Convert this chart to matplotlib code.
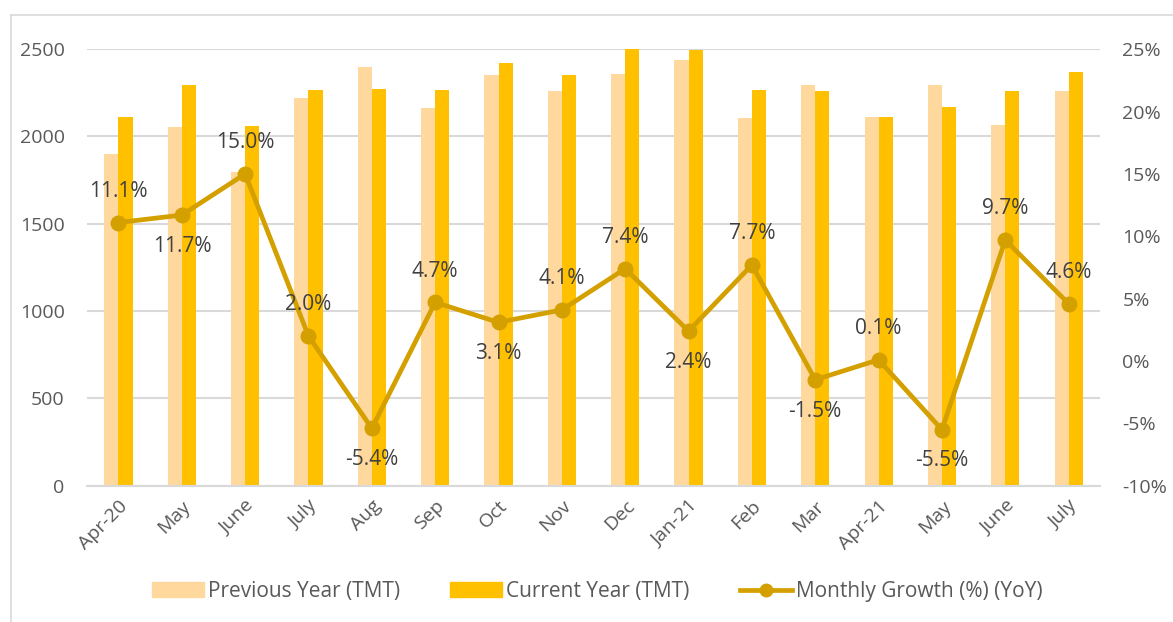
import matplotlib.pyplot as plt
import numpy as np
from matplotlib.lines import Line2D

plt.rcParams['font.family'] = ['Open Sans', 'DejaVu Sans']

months = ['Apr-20', 'May', 'June', 'July', 'Aug', 'Sep', 'Oct', 'Nov', 'Dec',
          'Jan-21', 'Feb', 'Mar', 'Apr-21', 'May', 'June', 'July']
prev_year = [1900, 2055, 1795, 2220, 2400, 2162, 2350, 2260, 2355,
             2435, 2105, 2292, 2112, 2292, 2063, 2263]
curr_year = [2110, 2292, 2062, 2265, 2270, 2265, 2420, 2352, 2505,
             2495, 2268, 2260, 2112, 2167, 2263, 2368]
growth = [11.1, 11.7, 15.0, 2.0, -5.4, 4.7, 3.1, 4.1, 7.4,
          2.4, 7.7, -1.5, 0.1, -5.5, 9.7, 4.6]
# label above (1) or below (-1) the point
label_side = [1, -1, 1, 1, -1, 1, -1, 1, 1, -1, 1, -1, 1, -1, 1, 1]

c_prev = '#FFD89E'
c_curr = '#FFC000'
c_line = '#D4A000'
c_text = '#595959'
c_grid = '#D9D9D9'

fig = plt.figure(figsize=(11.73, 6.22), dpi=100)
ax = fig.add_axes([0.074, 0.219, 0.864, 0.702])
x = np.arange(len(months))
w = 0.222
ax.bar(x - w / 2, prev_year, w, color=c_prev, zorder=2)
ax.bar(x + w / 2, curr_year, w, color=c_curr, zorder=2)
ax.set_xlim(-0.5, len(months) - 0.5)
ax.set_ylim(0, 2500)
ax.set_yticks(range(0, 2501, 500))
ax.grid(axis='y', color=c_grid, linewidth=1.5, zorder=0)
ax.set_xticks(x)
ax.set_xticklabels(months, rotation=45, ha='right', rotation_mode='anchor')
ax.tick_params(axis='x', length=0, labelsize=14, labelcolor=c_text, pad=8)
ax.tick_params(axis='y', length=0, labelsize=14, labelcolor=c_text, pad=16)
for s in ['top', 'right', 'left']:
    ax.spines[s].set_visible(False)
ax.spines['bottom'].set_color(c_grid)
ax.spines['bottom'].set_linewidth(1.5)

ax2 = ax.twinx()
ax2.plot(x, growth, color=c_line, linewidth=3.4, marker='o', markersize=10.5,
         zorder=3)
ax2.set_ylim(-10, 25)
ax2.set_yticks(range(-10, 26, 5))
ax2.set_yticklabels([f'{v}%' for v in range(-10, 26, 5)])
ax2.tick_params(axis='y', length=0, labelsize=14, labelcolor=c_text, pad=16)
for s in ax2.spines.values():
    s.set_visible(False)

for xi, g, side in zip(x, growth, label_side):
    ax2.annotate(f'{g:.1f}%', (xi, g), xytext=(0, 15 * side),
                 textcoords='offset points', ha='center',
                 va='bottom' if side > 0 else 'top',
                 fontsize=15, color='#404040')

handles = [plt.Rectangle((0, 0), 1, 1, color=c_prev),
           plt.Rectangle((0, 0), 1, 1, color=c_curr),
           Line2D([], [], color=c_line, linewidth=3.4, marker='o', markersize=9)]
fig.legend(handles, ['Previous Year (TMT)', 'Current Year (TMT)',
                     'Monthly Growth (%) (YoY)'],
           loc='center', bbox_to_anchor=(0.509, 0.049), ncol=3, frameon=False,
           fontsize=15, labelcolor=c_text, handlelength=2.5, columnspacing=2.4,
           handletextpad=0.2)

# chart border
fig.add_artist(Line2D([0.009, 1.0], [0.976, 0.976], color=c_grid, linewidth=1.2))
fig.add_artist(Line2D([0.009, 0.009], [0.0, 0.976], color=c_grid, linewidth=1.2))

fig.savefig('out.png', dpi=100)
